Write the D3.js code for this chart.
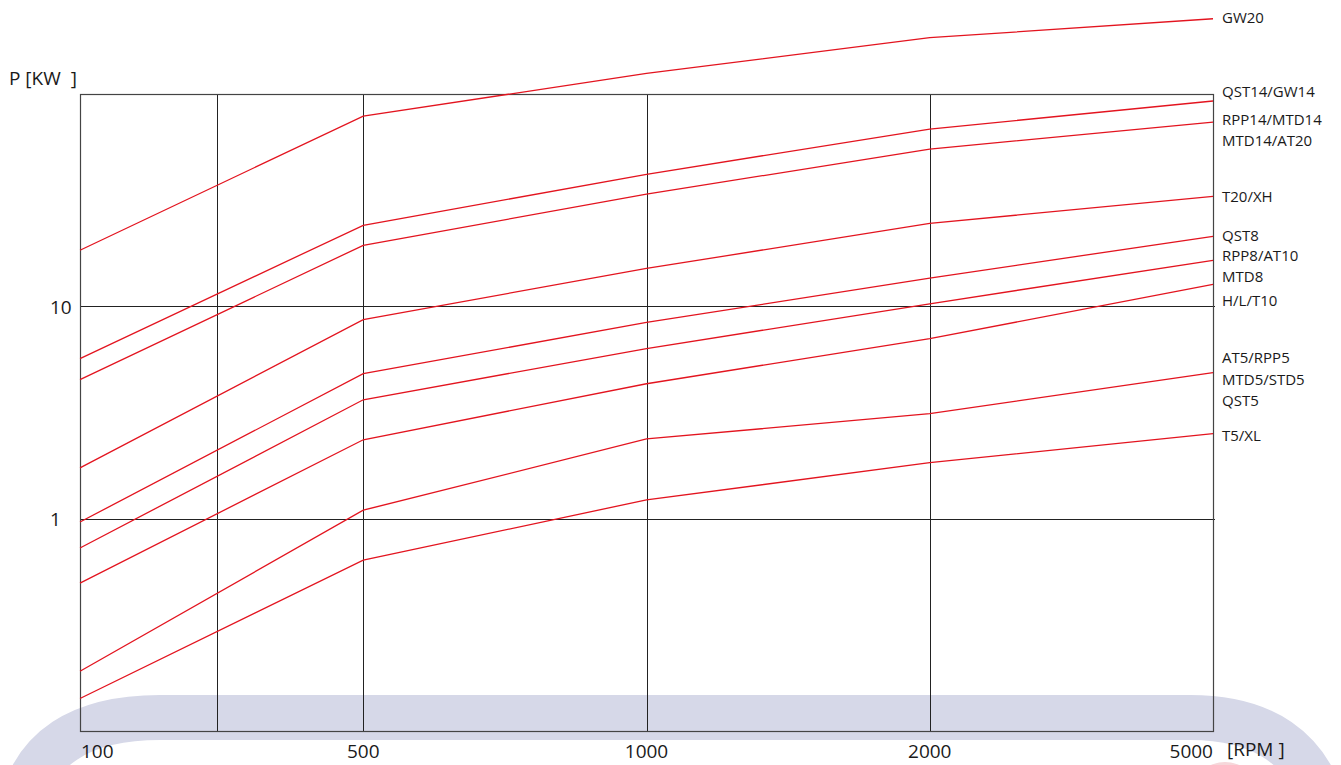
<!DOCTYPE html>
<html>
<head>
<meta charset="utf-8">
<script src="https://cdn.jsdelivr.net/npm/d3@7"></script>
<style>
    html, body { margin: 0; padding: 0; background: #fff; }
    svg { display: block; font-family: 'Open Sans', 'Noto Sans', sans-serif; }
    .tick-label { font-size: 19px; fill: #1a1a1a; }
    .curve-label { font-size: 15px; fill: #1a1a1a; }
</style>
</head>
<body>
<div id="chart"></div>
<script>
/* === Power vs speed chart, log scale (D3.js v7) === */

var RPM = [100, 500, 1000, 2000, 5000];
var X_TICKS = ['100', '500', '1000', '2000', '5000'];
var X_EXTRA_GRID = [294];
var Y_GRID = [1, 10];

// power [kW] per curve at each RPM
var SERIES = [
    [18.4, 78.7, 125, 184, 226],
    [5.69, 24.1, 41.9, 68.4, 92.7],
    [4.53, 19.4, 33.8, 55.0, 73.8],
    [1.74, 8.68, 15.1, 24.6, 33.0],
    [0.968, 4.83, 8.41, 13.6, 21.4],
    [0.730, 3.64, 6.34, 10.3, 16.5],
    [0.499, 2.36, 4.33, 7.06, 12.7],
    [0.192, 1.10, 2.38, 3.13, 4.89],
    [0.143, 0.641, 1.23, 1.84, 2.52]
];

var LABELS = ['GW20', 'QST14/GW14', 'RPP14/MTD14', 'MTD14/AT20', 'T20/XH', 'QST8',
    'RPP8/AT10', 'MTD8', 'H/L/T10', 'AT5/RPP5', 'MTD5/STD5', 'QST5', 'T5/XL'];
// vertical position of each label, in kW
var LABEL_AT = [230, 103, 76.1, 60.2, 33.0, 21.5, 17.4, 13.8, 10.7, 5.77, 4.55, 3.60, 2.48];

var width = 1341, height = 765;
var plotLeft = 80, plotRight = 1213, plotTop = 94, plotBottom = 731.5;

var svg = d3.select('#chart').append('svg')
    .attr('width', width)
    .attr('height', height);

// background band
svg.append('ellipse')
    .attr('cx', 1225).attr('cy', 792).attr('rx', 32).attr('ry', 30)
    .attr('fill', '#f6d7da');
svg.append('path')
    .attr('d', 'M20,810 Q40,717.5 160,717.5 L1190,717.5 Q1300,717.5 1325,810')
    .attr('fill', 'none')
    .attr('stroke', '#d6d8e8')
    .attr('stroke-width', 45);

// piecewise scale: the RPM stops are evenly spaced
var x = d3.scaleLinear()
    .domain(RPM)
    .range(RPM.map(function(d, i) { return plotLeft + i * (plotRight - plotLeft) / (RPM.length - 1); }));

var y = d3.scaleLog()
    .domain([0.1, 100])
    .range([plotBottom, plotTop]);

var grid = svg.append('g')
    .attr('stroke', '#222')
    .attr('stroke-width', 1);

grid.selectAll('line.v')
    .data(RPM.slice(1, -1).concat(X_EXTRA_GRID))
    .join('line')
    .attr('class', 'v')
    .attr('x1', function(d) { return Math.round(x(d)) + 0.5; })
    .attr('x2', function(d) { return Math.round(x(d)) + 0.5; })
    .attr('y1', plotTop)
    .attr('y2', plotBottom);

grid.selectAll('line.h')
    .data(Y_GRID)
    .join('line')
    .attr('class', 'h')
    .attr('x1', plotLeft)
    .attr('x2', plotRight + 2)
    .attr('y1', function(d) { return Math.floor(y(d)) + 0.5; })
    .attr('y2', function(d) { return Math.floor(y(d)) + 0.5; });

// frame
svg.append('rect')
    .attr('x', plotLeft + 0.5)
    .attr('y', plotTop + 0.5)
    .attr('width', plotRight - plotLeft)
    .attr('height', Math.floor(plotBottom - plotTop))
    .attr('fill', 'none')
    .attr('stroke', '#444')
    .attr('stroke-width', 1.2);

// curves
var line = d3.line()
    .x(function(d, i) { return x(RPM[i]); })
    .y(function(d) { return y(d); });

svg.append('g').selectAll('path')
    .data(SERIES)
    .join('path')
    .attr('d', line)
    .attr('fill', 'none')
    .attr('stroke', '#e3141f')
    .attr('stroke-width', 1.3);

// x tick labels
svg.append('g').selectAll('text')
    .data(X_TICKS)
    .join('text')
    .attr('class', 'tick-label')
    .attr('x', function(d, i) { return x(RPM[i]); })
    .attr('y', 758)
    .attr('text-anchor', function(d, i) {
        return i === 0 ? 'start' : (i === X_TICKS.length - 1 ? 'end' : 'middle');
    })
    .attr('dx', function(d, i) { return i === 0 ? 1 : 0; })
    .text(function(d) { return d; });

svg.append('text')
    .attr('class', 'tick-label')
    .attr('x', 1227)
    .attr('y', 756)
    .text('[RPM ]');

// y tick labels
svg.append('g').selectAll('text')
    .data(Y_GRID)
    .join('text')
    .attr('class', 'tick-label')
    .attr('x', 50)
    .attr('y', function(d) { return y(d) + 7; })
    .text(function(d) { return d; });

svg.append('text')
    .attr('class', 'tick-label')
    .attr('x', 9)
    .attr('y', 85)
    .attr('xml:space', 'preserve')
    .text('P [KW  ]');

// curve names
svg.append('g').selectAll('text')
    .data(LABELS)
    .join('text')
    .attr('class', 'curve-label')
    .attr('x', 1222)
    .attr('y', function(d, i) { return y(LABEL_AT[i]); })
    .attr('dy', '0.36em')
    .text(function(d) { return d; });
</script>
</body>
</html>
